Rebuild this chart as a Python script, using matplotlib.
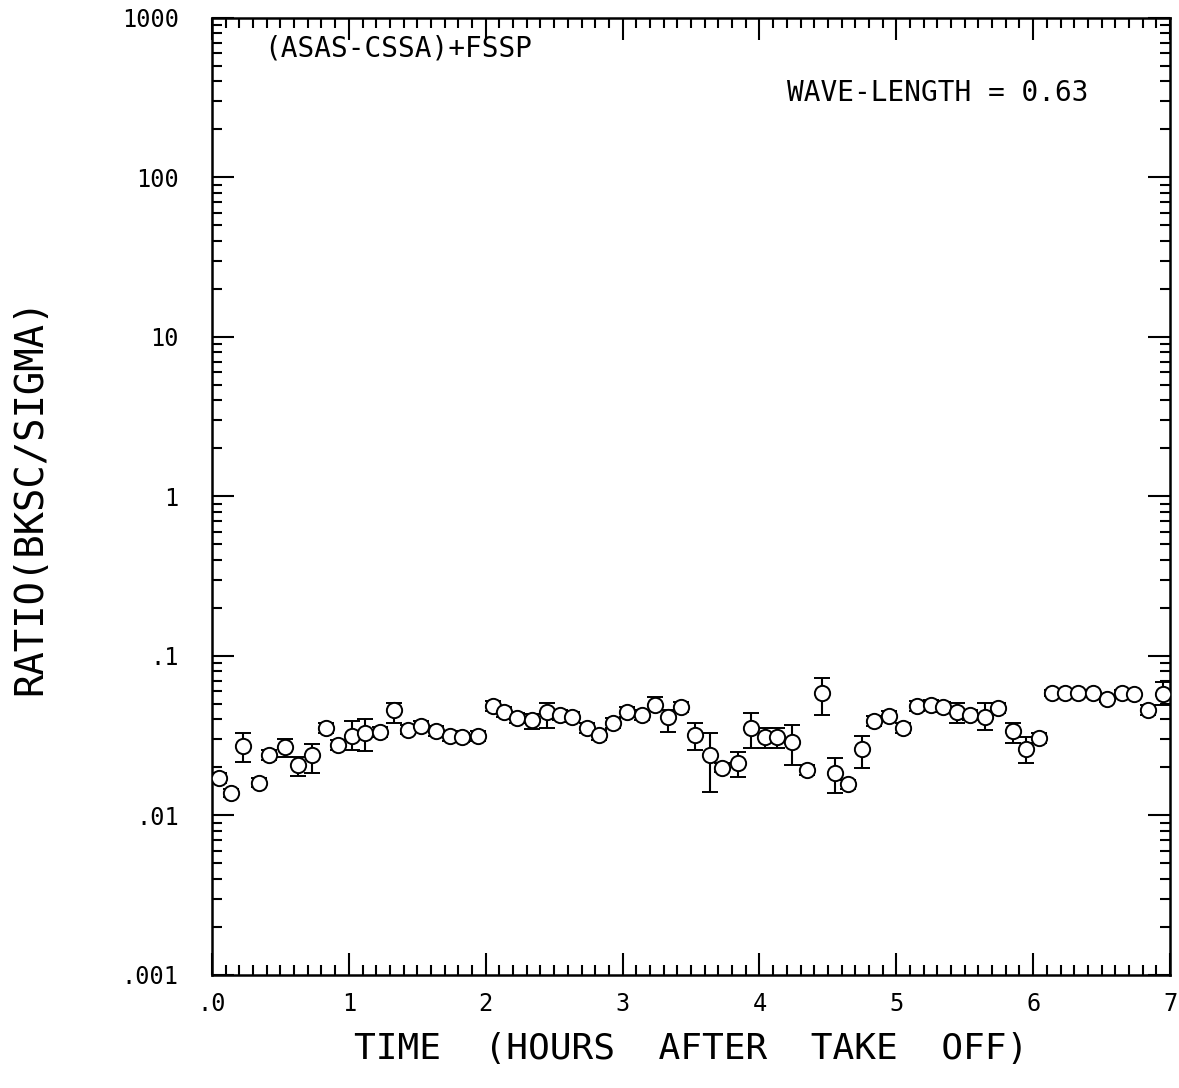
import numpy as np
import matplotlib
matplotlib.use("Agg")
import matplotlib.pyplot as plt
from matplotlib.ticker import FixedLocator, MultipleLocator, LogLocator, NullFormatter

# data (hours after take off, ratio bksc/sigma)
time_h = [0.05, 0.14, 0.23, 0.34, 0.42, 0.53, 0.63, 0.73, 0.83, 0.92,
          1.02, 1.12, 1.23, 1.33, 1.43, 1.53, 1.64, 1.74, 1.83, 1.94,
          2.05, 2.13, 2.23, 2.34, 2.45, 2.54, 2.63, 2.74, 2.83, 2.93,
          3.03, 3.14, 3.24, 3.33, 3.43, 3.53, 3.64, 3.73, 3.84, 3.94,
          4.04, 4.13, 4.24, 4.35, 4.46, 4.55, 4.65, 4.75, 4.84, 4.95,
          5.05, 5.15, 5.25, 5.34, 5.44, 5.54, 5.65, 5.74, 5.85, 5.95,
          6.04, 6.14, 6.23, 6.33, 6.44, 6.54, 6.65, 6.74, 6.84, 6.95]
ratio = [0.0172, 0.0138, 0.0273, 0.0160, 0.0239, 0.0269, 0.0207, 0.0239, 0.0354, 0.0277,
         0.0315, 0.0329, 0.0334, 0.0458, 0.0344, 0.0364, 0.0339, 0.0315, 0.0310, 0.0315,
         0.0486, 0.0446, 0.0408, 0.0397, 0.0446, 0.0427, 0.0415, 0.0354, 0.0320, 0.0380,
         0.0446, 0.0427, 0.0493, 0.0415, 0.0479, 0.0320, 0.0239, 0.0199, 0.0213, 0.0354,
         0.0310, 0.0310, 0.0289, 0.0193, 0.0586, 0.0185, 0.0157, 0.0261, 0.0391, 0.0421,
         0.0354, 0.0486, 0.0493, 0.0479, 0.0446, 0.0427, 0.0415, 0.0472, 0.0339, 0.0261,
         0.0306, 0.0586, 0.0586, 0.0586, 0.0586, 0.0537, 0.0586, 0.0578, 0.0458, 0.0578]
ratio_lo = [0.0160, 0.0130, 0.0216, 0.0150, 0.0224, 0.0233, 0.0177, 0.0185, 0.0331, 0.0259,
            0.0258, 0.0254, 0.0312, 0.0380, 0.0322, 0.0340, 0.0317, 0.0295, 0.0290, 0.0295,
            0.0455, 0.0417, 0.0381, 0.0350, 0.0354, 0.0399, 0.0388, 0.0331, 0.0299, 0.0355,
            0.0417, 0.0399, 0.0458, 0.0334, 0.0448, 0.0258, 0.0140, 0.0186, 0.0174, 0.0265,
            0.0265, 0.0265, 0.0207, 0.0180, 0.0427, 0.0138, 0.0147, 0.0199, 0.0365, 0.0394,
            0.0331, 0.0455, 0.0461, 0.0448, 0.0380, 0.0399, 0.0344, 0.0441, 0.0285, 0.0213,
            0.0286, 0.0560, 0.0560, 0.0560, 0.0560, 0.0512, 0.0560, 0.0552, 0.0428, 0.0493]
ratio_hi = [0.0185, 0.0147, 0.0329, 0.0171, 0.0256, 0.0302, 0.0233, 0.0281, 0.0378, 0.0296,
            0.0391, 0.0403, 0.0357, 0.0507, 0.0368, 0.0389, 0.0362, 0.0337, 0.0331, 0.0337,
            0.0520, 0.0477, 0.0436, 0.0430, 0.0507, 0.0457, 0.0444, 0.0378, 0.0342, 0.0407,
            0.0477, 0.0457, 0.0553, 0.0458, 0.0512, 0.0380, 0.0329, 0.0213, 0.0250, 0.0440,
            0.0354, 0.0354, 0.0369, 0.0206, 0.0728, 0.0230, 0.0168, 0.0315, 0.0418, 0.0450,
            0.0378, 0.0520, 0.0527, 0.0512, 0.0507, 0.0457, 0.0507, 0.0505, 0.0380, 0.0310,
            0.0327, 0.0613, 0.0613, 0.0613, 0.0613, 0.0563, 0.0613, 0.0605, 0.0490, 0.0687]

y_ticks = [1e-3, 1e-2, 1e-1, 1, 10, 100, 1000]
y_labels = [".001", ".01", ".1", "1", "10", "100", "1000"]
x_ticks = [0, 1, 2, 3, 4, 5, 6, 7]
x_labels = [".0", "1", "2", "3", "4", "5", "6", "7"]

plt.rcParams['font.family'] = 'DejaVu Sans Mono'

fig = plt.figure(figsize=(11.79, 10.88), dpi=100)
ax = fig.add_axes([0.1798, 0.1039, 0.8126, 0.8796])

t = np.array(time_h)
v = np.array(ratio)
yerr = [v - np.array(ratio_lo), np.array(ratio_hi) - v]
ax.errorbar(t, v, yerr=yerr, fmt='o', mfc='white', mec='black', ecolor='black',
            ms=11, mew=1.4, elinewidth=1.5, capsize=6, capthick=1.5, zorder=3)

ax.set_yscale('log')
ax.set_xlim(0, 7)
ax.set_ylim(1e-3, 1e3)

ax.yaxis.set_major_locator(FixedLocator(y_ticks))
ax.set_yticklabels(y_labels)
ax.yaxis.set_minor_locator(LogLocator(base=10, subs=np.arange(2, 10), numticks=20))
ax.yaxis.set_minor_formatter(NullFormatter())
ax.xaxis.set_major_locator(FixedLocator(x_ticks))
ax.set_xticklabels(x_labels)
ax.xaxis.set_minor_locator(MultipleLocator(0.1))

ax.tick_params(which='both', direction='in', top=True, right=True, width=1.5, labelsize=17, colors='black')
ax.tick_params(which='major', length=16)
ax.tick_params(which='minor', length=7)
ax.tick_params(axis='y', which='major', pad=24)
ax.tick_params(axis='x', which='major', pad=12)
for s in ax.spines.values():
    s.set_linewidth(1.8)

ax.set_xlabel("TIME  (HOURS  AFTER  TAKE  OFF)", fontsize=26, labelpad=12)
ax.set_ylabel("RATIO(BKSC/SIGMA)", fontsize=28, labelpad=52)

ax.text(0.055, 0.983, "(ASAS-CSSA)+FSSP", transform=ax.transAxes, fontsize=20, va='top', ha='left')
ax.text(0.915, 0.936, "WAVE-LENGTH = 0.63", transform=ax.transAxes, fontsize=20, va='top', ha='right')

fig.savefig("out.png", dpi=100)
